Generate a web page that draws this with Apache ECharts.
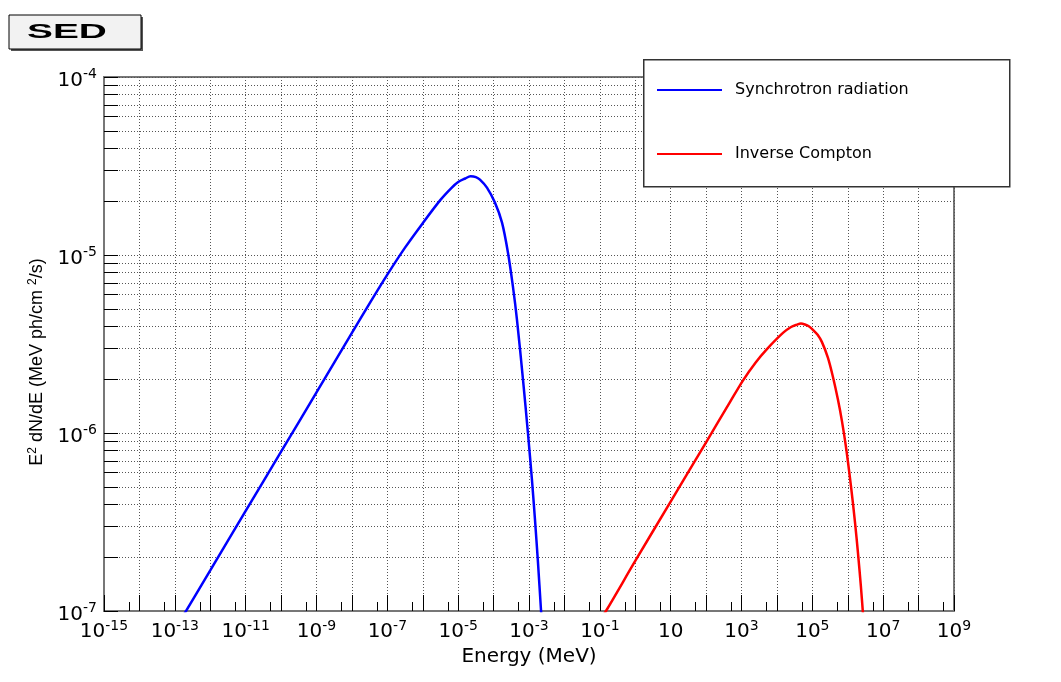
<!DOCTYPE html>
<html><head><meta charset="utf-8">
<script src="https://cdn.jsdelivr.net/npm/echarts@6/dist/echarts.min.js"></script>
<style>html,body{margin:0;padding:0;background:#fff}#c{width:1061px;height:682px}</style>
</head><body><div id="c"></div>
<script>
// ---- axis ranges ----
const X_MIN = 1e-15, X_MAX = 1e9;           // Energy (MeV), log
const X_EXP_MIN = -15, X_EXP_MAX = 9;       // decades for the display axis
const Y_MIN = 1e-7, Y_MAX = 1e-4;           // E^2 dN/dE, log

// ---- series ----
const seriesNames = ['Synchrotron radiation', 'Inverse Compton'];
const synchrotronE = [1e-13, 1e-12, 1e-11, 1e-10, 1e-9, 1e-8, 3.16e-8, 1e-7, 3.16e-7, 1e-6, 3.16e-6, 6.31e-6, 1e-5, 1.58e-5, 2.24e-5, 3.16e-5, 4.12e-5, 6.5e-5, 1.09e-4, 1.73e-4, 2.55e-4, 3.52e-4, 4.57e-4, 6.76e-4, 9.33e-4, 1.21e-3, 1.47e-3, 1.79e-3, 2.17e-3, 2.48e-3];
const synchrotronF = [7.85e-8, 1.69e-7, 3.65e-7, 7.85e-7, 1.69e-6, 3.65e-6, 5.35e-6, 7.76e-6, 1.10e-5, 1.51e-5, 2.04e-5, 2.37e-5, 2.57e-5, 2.69e-5, 2.77e-5, 2.74e-5, 2.65e-5, 2.39e-5, 1.97e-5, 1.52e-5, 1.03e-5, 6.64e-6, 4.34e-6, 2.0e-6, 1.0e-6, 5.47e-7, 3.29e-7, 1.88e-7, 1.03e-7, 6.8e-8];
const inverseComptonE = [0.1, 0.149, 1, 10, 100, 472, 1096, 2512, 5224, 1.48e4, 2.51e4, 3.67e4, 4.76e4, 6.18e4, 7.94e4, 1.04e5, 1.41e5, 1.87e5, 2.75e5, 3.81e5, 5.28e5, 6.84e5, 8.87e5, 1.23e6, 1.6e6, 1.94e6, 2.36e6, 2.68e6, 2.86e6];
const inverseComptonF = [8.9e-8, 1.0e-7, 1.91e-7, 4.12e-7, 8.87e-7, 1.49e-6, 1.97e-6, 2.49e-6, 2.96e-6, 3.65e-6, 3.94e-6, 4.06e-6, 4.12e-6, 4.07e-6, 3.98e-6, 3.8e-6, 3.56e-6, 3.24e-6, 2.65e-6, 2.07e-6, 1.54e-6, 1.17e-6, 8.4e-7, 5.05e-7, 3.16e-7, 2.13e-7, 1.36e-7, 9.8e-8, 8.3e-8];

// ---- minor ticks ----
const yMinorTicks = [2e-7, 3e-7, 4e-7, 5e-7, 6e-7, 7e-7, 8e-7, 9e-7,
                     2e-6, 3e-6, 4e-6, 5e-6, 6e-6, 7e-6, 8e-6, 9e-6,
                     2e-5, 3e-5, 4e-5, 5e-5, 6e-5, 7e-5, 8e-5, 9e-5];
const xMinorTicks = [5e-15, 5e-14, 5e-13, 5e-12, 5e-11, 5e-10, 5e-9, 5e-8, 5e-7, 5e-6, 5e-5, 5e-4,
                     5e-3, 5e-2, 5e-1, 5, 50, 500, 5e3, 5e4, 5e5, 5e6, 5e7, 5e8];

const titleText = 'SED';
const xTitle = 'Energy (MeV)';

function powLabel(e) {
  if (e === 1) return '{b|10}';
  if (e === 0) return '{b|1}';
  return '{b|10}{s|' + (e < 0 ? '-' : '') + Math.abs(e) + '}';
}
const labelRich = {
  b: {fontSize: 20, fontFamily: 'DejaVu Sans', color: '#000', padding: [7, 0, 0, 0]},
  s: {fontSize: 14, fontFamily: 'DejaVu Sans', color: '#000', padding: [0, 0, 5, 0]}
};
const gridDot = {color: '#555', width: 1, type: [1, 2]};

const chart = echarts.init(document.getElementById('c'), null, {renderer: 'canvas'});
chart.setOption({
  backgroundColor: '#fff',
  animation: false,
  textStyle: {fontFamily: 'DejaVu Sans'},
  grid: {left: 104, right: 107, top: 77, bottom: 71, show: true, borderColor: '#777', borderWidth: 2, backgroundColor: 'transparent'},
  xAxis: [
    {type: 'log', logBase: 10, min: X_MIN, max: X_MAX, position: 'top', show: false},
    {type: 'value', min: X_EXP_MIN, max: X_EXP_MAX, interval: 1, position: 'bottom',
     name: xTitle, nameLocation: 'middle', nameGap: 30,
     nameTextStyle: {fontSize: 20, color: '#000', fontFamily: 'DejaVu Sans'},
     axisLine: {show: true, onZero: false, lineStyle: {color: '#777', width: 2}},
     axisTick: {show: true, inside: true, length: 16, lineStyle: {color: '#000', width: 1}},
     axisLabel: {margin: 4, formatter: v => (((v % 2) + 2) % 2 === 0 ? '' : powLabel(v)), rich: labelRich},
     splitLine: {show: true, lineStyle: gridDot}}
  ],
  yAxis: [{
    type: 'log', logBase: 10, min: Y_MIN, max: Y_MAX, splitNumber: 3,
    name: '{n|E}{s|2}{n| dN/dE (MeV ph/cm }{s|2}{n|/s)}', nameLocation: 'middle', nameGap: 57, nameRotate: 90,
    nameTextStyle: {padding: [0, 36, 0, 0], rich: {
      n: {fontSize: 18, fontFamily: 'Liberation Sans', color: '#000'},
      s: {fontSize: 12, fontFamily: 'Liberation Sans', color: '#000', padding: [0, 0, 8, 0]}
    }},
    axisLine: {show: true, onZero: false, lineStyle: {color: '#777', width: 2}},
    axisTick: {show: true, inside: true, length: 14, lineStyle: {color: '#000', width: 1}},
    axisLabel: {margin: 7, formatter: v => powLabel(Math.round(Math.log10(v))), rich: labelRich},
    splitLine: {show: true, lineStyle: gridDot}
  }],
  legend: {
    data: seriesNames, orient: 'vertical', left: 657, top: 81, padding: 0,
    itemWidth: 65, itemHeight: 2, itemGap: 46, icon: 'rect', selectedMode: false, z: 20,
    textStyle: {fontSize: 16, fontFamily: 'DejaVu Sans', color: '#000', lineHeight: 18, padding: [0, 0, 0, 8]}
  },
  graphic: [
    {type: 'rect', z: 10, left: 643, top: 59, shape: {width: 366, height: 127}, style: {fill: '#fff', stroke: '#333', lineWidth: 1.5}},
    {type: 'rect', z: 10, x: 11, y: 17, shape: {width: 132, height: 34}, style: {fill: '#555'}},
    {type: 'rect', z: 11, x: 9, y: 15, shape: {width: 132, height: 34}, style: {fill: '#f2f2f2', stroke: '#000', lineWidth: 1}},
    {type: 'text', z: 12, x: 27, y: 32.5, scaleX: 1.85, style: {text: titleText, font: 'bold 21px "Liberation Sans"', fill: '#000', textAlign: 'left', textVerticalAlign: 'middle', align: 'left', verticalAlign: 'middle'}}
  ],
  series: [
    {type: 'custom', name: 'yMinor', xAxisIndex: 0, yAxisIndex: 0, silent: true, z: 1,
     data: yMinorTicks.map(v => [X_MIN, v]),
     renderItem: function (params, api) {
       const p = api.coord([api.value(0), api.value(1)]);
       const cs = params.coordSys;
       const y = Math.round(p[1]) + 0.5;
       return {type: 'group', children: [
         {type: 'line', shape: {x1: cs.x, y1: y, x2: cs.x + cs.width, y2: y}, style: {stroke: '#555', lineWidth: 1, lineDash: [1, 2]}},
         {type: 'line', shape: {x1: cs.x, y1: y, x2: cs.x + 14, y2: y}, style: {stroke: '#000', lineWidth: 1}}
       ]};
     }},
    {type: 'custom', name: 'xMinor', xAxisIndex: 0, yAxisIndex: 0, silent: true, z: 1,
     data: xMinorTicks.map(v => [v, Y_MIN]),
     renderItem: function (params, api) {
       const p = api.coord([api.value(0), api.value(1)]);
       const x = Math.round(p[0]) + 0.5;
       return {type: 'line', shape: {x1: x, y1: p[1], x2: x, y2: p[1] - 9}, style: {stroke: '#000', lineWidth: 1}};
     }},
    {type: 'line', name: seriesNames[0], xAxisIndex: 0, yAxisIndex: 0, showSymbol: false, smooth: 0.3, clip: true, z: 5,
     color: '#0000ff', lineStyle: {color: '#0000ff', width: 2.5},
     data: synchrotronE.map((e, i) => [e, synchrotronF[i]])},
    {type: 'line', name: seriesNames[1], xAxisIndex: 0, yAxisIndex: 0, showSymbol: false, smooth: 0.3, clip: true, z: 5,
     color: '#ff0000', lineStyle: {color: '#ff0000', width: 2.5},
     data: inverseComptonE.map((e, i) => [e, inverseComptonF[i]])}
  ]
});
</script></body></html>
